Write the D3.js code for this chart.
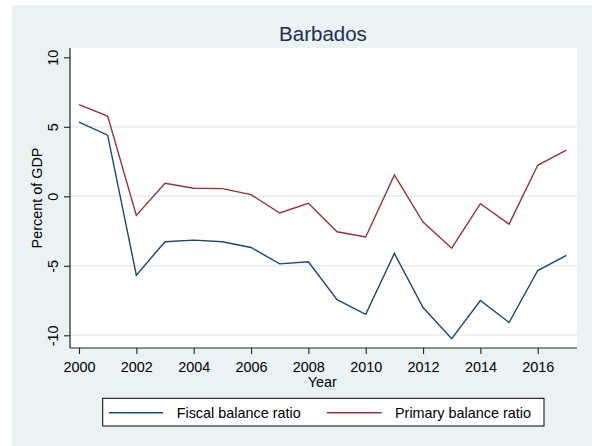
<!DOCTYPE html>
<html>
<head>
<meta charset="utf-8">
<script src="https://cdn.jsdelivr.net/npm/d3@7"></script>
<style>
  html, body { margin: 0; padding: 0; background: #ffffff; }
  svg { display: block; font-family: "Liberation Sans", Arial, sans-serif; }
</style>
</head>
<body>
<svg id="chart" width="592" height="446"></svg>
<script>
const years = [2000,2001,2002,2003,2004,2005,2006,2007,2008,2009,2010,2011,2012,2013,2014,2015,2016,2017];
const fiscal = [5.33,4.40,-5.67,-3.27,-3.15,-3.27,-3.68,-4.86,-4.71,-7.43,-8.49,-4.11,-8.00,-10.24,-7.50,-9.08,-5.34,-4.25];
const primary = [6.60,5.77,-1.37,0.94,0.58,0.55,0.12,-1.20,-0.50,-2.55,-2.93,1.54,-1.85,-3.73,-0.53,-2.00,2.23,3.32];
const xTicks = [2000,2002,2004,2006,2008,2010,2012,2014,2016];
const yTicks = [-10,-5,0,5,10];
const gridValues = [-10,-5,0,5];
const seriesNames = ["Fiscal balance ratio","Primary balance ratio"];
const titleText = "Barbados";

const svg = d3.select("#chart");
const bg = "#eaf2f3";
const colors = ["#1a476f","#90353b"];
const fs = 14.4;

// outer graph region
svg.append("rect").attr("x",12).attr("y",5).attr("width",580).attr("height",441).attr("fill",bg);

const plot = {left:70, right:577, top:48, bottom:348};
svg.append("rect").attr("x",plot.left).attr("y",plot.top)
  .attr("width",plot.right-plot.left).attr("height",plot.bottom-plot.top).attr("fill","#ffffff");

const x = d3.scaleLinear().domain([2000,2017]).range([79,566.4]);
const y = d3.scaleLinear().domain([-10,10]).range([335.3,57.3]);

// gridlines
svg.append("g").selectAll("line").data(gridValues).join("line")
  .attr("x1",plot.left).attr("x2",plot.right)
  .attr("y1",d=>y(d)).attr("y2",d=>y(d))
  .attr("stroke","#e6eef0").attr("stroke-width",1.4);

// y axis
const yAxis = d3.axisLeft(y).tickValues(yTicks).tickSize(6).tickPadding(4).tickFormat(d => String(d));
const gy = svg.append("g").attr("transform",`translate(${plot.left},0)`).call(yAxis);
gy.select(".domain").remove();
gy.append("line").attr("x1",0).attr("x2",0).attr("y1",plot.top).attr("y2",plot.bottom).attr("stroke","#222").attr("stroke-width",1.2);
gy.selectAll(".tick line").attr("stroke","#222").attr("stroke-width",1.1);
gy.selectAll(".tick text")
  .attr("x",null).attr("dy",null)
  .attr("transform","translate(-12,0) rotate(-90)")
  .attr("text-anchor","middle")
  .attr("font-size",fs).attr("fill","#000").attr("font-family","Liberation Sans, Arial, sans-serif");

// x axis
const xAxis = d3.axisBottom(x).tickValues(xTicks).tickSize(6).tickPadding(4).tickFormat(d => String(d));
const gx = svg.append("g").attr("transform",`translate(0,${plot.bottom})`).call(xAxis);
gx.select(".domain").remove();
gx.append("line").attr("x1",plot.left).attr("x2",plot.right).attr("y1",0).attr("y2",0).attr("stroke","#222").attr("stroke-width",1.2);
gx.selectAll(".tick line").attr("stroke","#222").attr("stroke-width",1.1);
gx.selectAll(".tick text").attr("dy",null).attr("y",24)
  .attr("font-size",fs).attr("fill","#000").attr("font-family","Liberation Sans, Arial, sans-serif");

// axis titles
svg.append("text").attr("x",(x(2000)+x(2017))/2 - 0.5).attr("y",386.5).attr("text-anchor","middle")
  .attr("font-size",fs).attr("fill","#000").text("Year");
svg.append("text").attr("transform",`translate(42.3,${(plot.top+plot.bottom)/2}) rotate(-90)`)
  .attr("text-anchor","middle").attr("font-size",fs).attr("fill","#000").text("Percent of GDP");

// title
svg.append("text").attr("x",323).attr("y",40.5).attr("text-anchor","middle")
  .attr("font-size",20.5).attr("fill","#1e2d53").text(titleText);

// lines
const line = d3.line().x((d,i)=>x(years[i])).y(d=>y(d));
[fiscal, primary].forEach((s,k)=>{
  svg.append("path").datum(s).attr("d",line).attr("fill","none")
    .attr("stroke",colors[k]).attr("stroke-width",1.4).attr("stroke-linejoin","miter");
});

// legend
svg.append("rect").attr("x",102.7).attr("y",398.3).attr("width",441.3).attr("height",27.7)
  .attr("fill","#fff").attr("stroke","#000").attr("stroke-width",1);
const legItems = [
  {lx1:109, lx2:163, tx:176.7},
  {lx1:326.7, lx2:381.7, tx:395}
];
legItems.forEach((it,k)=>{
  svg.append("line").attr("x1",it.lx1).attr("x2",it.lx2).attr("y1",412.7).attr("y2",412.7)
    .attr("stroke",colors[k]).attr("stroke-width",1.4);
  svg.append("text").attr("x",it.tx).attr("y",418.3).attr("font-size",fs).attr("fill","#000").text(seriesNames[k]);
});
</script>
</body>
</html>
